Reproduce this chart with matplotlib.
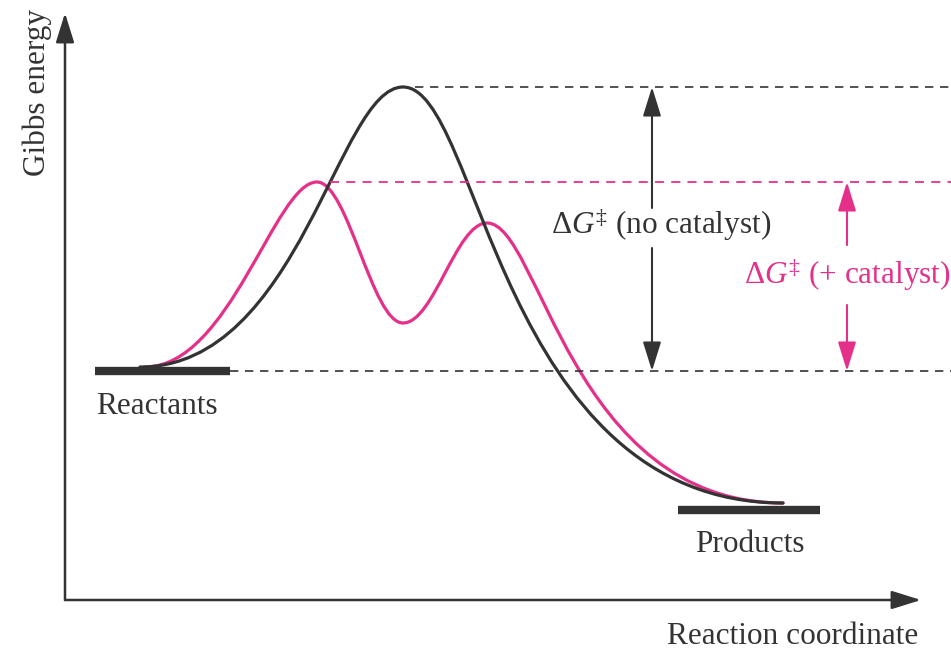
import matplotlib.pyplot as plt
from matplotlib.path import Path
from matplotlib.patches import PathPatch

plt.rcParams['font.family'] = ['Liberation Serif', 'DejaVu Serif']
plt.rcParams['mathtext.fontset'] = 'custom'
plt.rcParams['mathtext.rm'] = 'Liberation Serif'
plt.rcParams['mathtext.it'] = 'Liberation Serif:italic'

DARK = '#333333'
PINK = '#E5308A'
FS = 22.5

# reaction coordinate / Gibbs energy (arbitrary units)
# cubic bezier anchors + control points: start, c, c, anchor, c, c, anchor ...
uncat_x = [7.5, 23.5, 27.3, 33.8, 41.5, 43.3, 71.8]
uncat_y = [23.3, 23.3, 51.3, 51.3, 51.3, 9.7, 9.7]
cat_x = [8.0, 16.5, 21.0, 25.2, 28.3, 30.7, 33.8, 36.9, 39.1, 42.2, 47.5, 50.5, 71.8]
cat_y = [23.3, 23.3, 41.8, 41.8, 41.8, 27.7, 27.7, 27.7, 37.7, 37.7, 37.7, 9.7, 9.7]

reactant_level = 22.9
product_level = 9.0
reactant_span = (3.0, 16.5)
product_span = (61.3, 75.5)
ts_uncat = 51.3
ts_cat = 41.8


def bezier(xs, ys):
    codes = [Path.MOVETO] + [Path.CURVE4] * (len(xs) - 1)
    return Path(list(zip(xs, ys)), codes)


fig = plt.figure(figsize=(9.51, 6.52), dpi=100)
ax = fig.add_axes([0, 0, 1, 1])
ax.set_xlim(-6.5, 88.6)
ax.set_ylim(-5.2, 60.0)
ax.axis('off')

head = dict(arrowstyle='-|>,head_length=0.9,head_width=0.28', mutation_scale=20,
            shrinkA=0, shrinkB=0, lw=1.5)

# axes with arrows
ax.annotate('', xy=(0, 58.7), xytext=(0, 0), arrowprops=dict(head, color=DARK, lw=1.8))
ax.annotate('', xy=(85.6, 0), xytext=(0, 0), arrowprops=dict(head, color=DARK, lw=1.8))
ax.text(-2.8, 50.8, 'Gibbs energy', rotation=90, ha='center', va='center',
        fontsize=FS, color=DARK)
ax.text(72.8, -3.7, 'Reaction coordinate', ha='center', va='center',
        fontsize=FS, color=DARK)

# dashed guide lines
ax.plot([35.0, 88.6], [ts_uncat, ts_uncat], ls=(0, (5, 4)), color=DARK, lw=1.2)
ax.plot([26.5, 88.6], [ts_cat, ts_cat], ls=(0, (5, 4)), color=PINK, lw=1.3)
ax.plot([16.5, 88.6], [reactant_level, reactant_level], ls=(0, (5, 4)), color=DARK, lw=1.2)

# energy profiles
ax.add_patch(PathPatch(bezier(cat_x, cat_y), fill=False, ec=PINK, lw=2.3, capstyle='round'))
ax.add_patch(PathPatch(bezier(uncat_x, uncat_y), fill=False, ec=DARK, lw=2.3, capstyle='round'))

# reactant / product levels
ax.plot(reactant_span, [reactant_level] * 2, color=DARK, lw=6, solid_capstyle='butt')
ax.plot(product_span, [product_level] * 2, color=DARK, lw=6, solid_capstyle='butt')
ax.text(9.2, 19.4, 'Reactants', ha='center', va='center', fontsize=FS, color=DARK)
ax.text(68.5, 5.5, 'Products', ha='center', va='center', fontsize=FS, color=DARK)

# barrier arrows
ax.annotate('', xy=(58.7, ts_uncat), xytext=(58.7, 39.2), arrowprops=dict(head, color=DARK))
ax.annotate('', xy=(58.7, reactant_level), xytext=(58.7, 35.2), arrowprops=dict(head, color=DARK))
ax.text(59.6, 37.5, r'Δ$G^{\ddagger}$ (no catalyst)', ha='center', va='center',
        fontsize=FS, color=DARK)

ax.annotate('', xy=(78.2, ts_cat), xytext=(78.2, 35.5), arrowprops=dict(head, color=PINK))
ax.annotate('', xy=(78.2, reactant_level), xytext=(78.2, 29.5), arrowprops=dict(head, color=PINK))
ax.text(78.2, 32.5, r'Δ$G^{\ddagger}$ (+ catalyst)', ha='center', va='center',
        fontsize=FS, color=PINK)

fig.savefig('out.png', dpi=100)
